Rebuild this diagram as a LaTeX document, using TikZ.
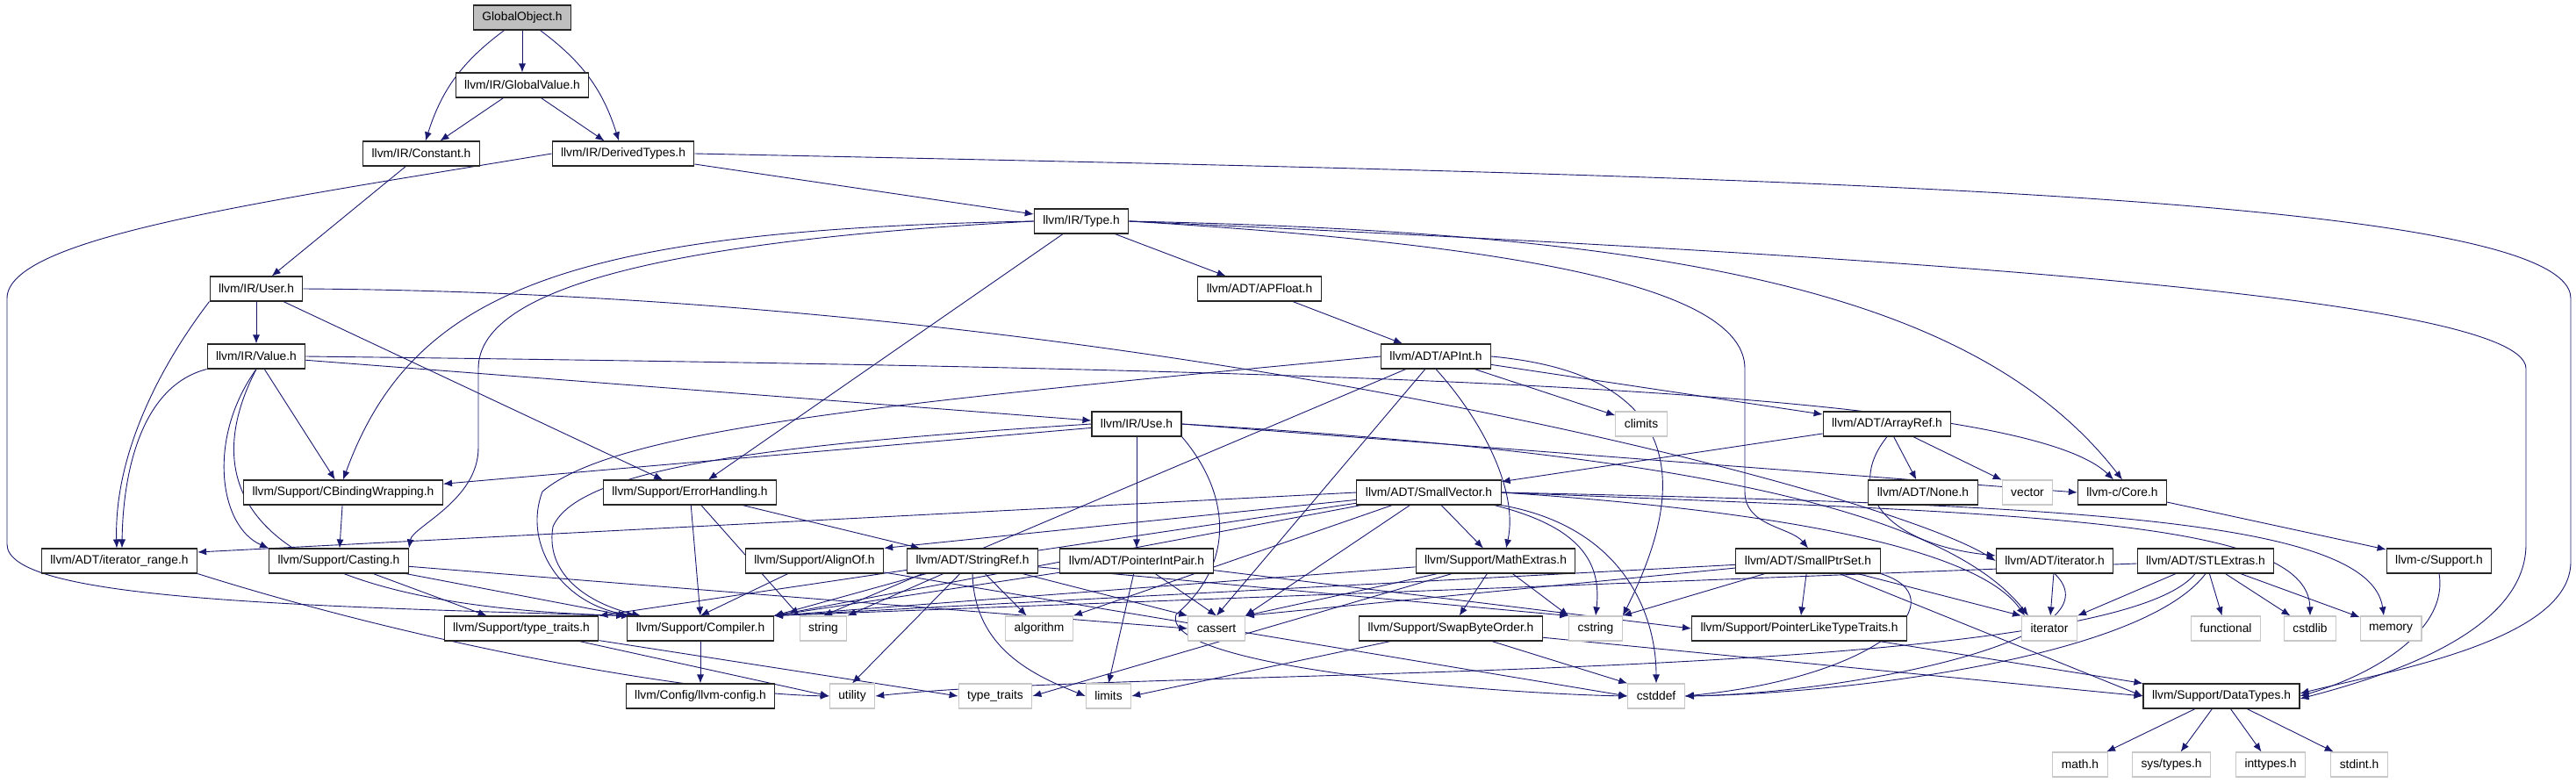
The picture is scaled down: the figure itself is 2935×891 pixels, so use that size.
\documentclass[tikz,border=0pt]{standalone}
\usepackage{fontspec}
\setmainfont{Liberation Sans}
\usetikzlibrary{arrows.meta,positioning,backgrounds}
\definecolor{edgeblue}{HTML}{191970}
\definecolor{rootgray}{HTML}{BFBFBF}
\definecolor{sysgray}{HTML}{C8C8C8}
\tikzset{
  hdr/.style={draw=black!85, fill=white, rectangle, minimum height=28pt, inner xsep=10pt,
    line width=1.1pt, font=\fontsize{13.8}{16}\selectfont},
  rootnode/.style={hdr, fill=rootgray},
  sysnode/.style={hdr, draw=sysgray},
  inc/.style={draw=edgeblue, line width=0.9pt, -{Latex[length=10pt,width=8pt]}},
}

\begin{document}
\begin{tikzpicture}[x=1pt,y=-1pt]
      \useasboundingbox (0,0) rectangle (2935,891);
      % Top of the graph
      \node[rootnode] (root) at (595,20) {GlobalObject.h};
      \node[hdr] (gval) at (595,97) {llvm/IR/GlobalValue.h};
      \node[hdr] (const) at (480,175) {llvm/IR/Constant.h};
      \node[hdr] (dtypes) at (710,175) {llvm/IR/DerivedTypes.h};
      \node[hdr] (type) at (1232,252) {llvm/IR/Type.h};
      \node[hdr] (user) at (292,329) {llvm/IR/User.h};
      \node[hdr] (apfloat) at (1435,329) {llvm/ADT/APFloat.h};
      \node[hdr] (value) at (292,406) {llvm/IR/Value.h};
      \node[hdr] (apint) at (1636,406) {llvm/ADT/APInt.h};
      \node[hdr] (use) at (1295,483) {llvm/IR/Use.h};
      \node[sysnode] (climits) at (1870,483) {climits};
      \node[hdr] (arrayref) at (2150,483) {llvm/ADT/ArrayRef.h};
      % Middle rows
      \node[hdr] (cbind) at (391,561) {llvm/Support/CBindingWrapping.h};
      \node[hdr] (errh) at (786,561) {llvm/Support/ErrorHandling.h};
      \node[hdr] (smallvec) at (1628,561) {llvm/ADT/SmallVector.h};
      \node[hdr] (none) at (2191,561) {llvm/ADT/None.h};
      \node[sysnode] (vector) at (2310,561) {vector};
      \node[hdr] (core) at (2418,561) {llvm-c/Core.h};
      \node[hdr] (itrange) at (136,639) {llvm/ADT/iterator\_range.h};
      \node[hdr] (casting) at (386,639) {llvm/Support/Casting.h};
      \node[hdr] (alignof) at (928,639) {llvm/Support/AlignOf.h};
      \node[hdr] (strref) at (1108,639) {llvm/ADT/StringRef.h};
      \node[hdr] (pip) at (1295,639) {llvm/ADT/PointerIntPair.h};
      \node[hdr] (mathx) at (1704,639) {llvm/Support/MathExtras.h};
      \node[hdr] (sps) at (2060,639) {llvm/ADT/SmallPtrSet.h};
      \node[hdr] (iterh) at (2341,639) {llvm/ADT/iterator.h};
      \node[hdr] (stlx) at (2513,639) {llvm/ADT/STLExtras.h};
      \node[hdr] (csupport) at (2779,639) {llvm-c/Support.h};
      % Lower rows
      \node[hdr] (ttraits) at (594,716) {llvm/Support/type\_traits.h};
      \node[hdr] (compiler) at (798,716) {llvm/Support/Compiler.h};
      \node[sysnode] (string) at (938,716) {string};
      \node[sysnode] (algorithm) at (1184,716) {algorithm};
      \node[sysnode] (cassert) at (1386,716) {cassert};
      \node[hdr] (swapbo) at (1653,716) {llvm/Support/SwapByteOrder.h};
      \node[sysnode] (cstring) at (1818,716) {cstring};
      \node[hdr] (pltt) at (2050,716) {llvm/Support/PointerLikeTypeTraits.h};
      \node[sysnode] (iterator) at (2335,716) {iterator};
      \node[sysnode] (functional) at (2536,716) {functional};
      \node[sysnode] (cstdlib) at (2632,716) {cstdlib};
      \node[sysnode] (memory) at (2724,716) {memory};
      \node[hdr] (config) at (798,793) {llvm/Config/llvm-config.h};
      \node[sysnode] (utility) at (971,793) {utility};
      \node[sysnode] (stdtt) at (1134,793) {type\_traits};
      \node[sysnode] (limits) at (1263,793) {limits};
      \node[sysnode] (cstddef) at (1887,793) {cstddef};
      \node[hdr] (dtypesh) at (2531,793) {llvm/Support/DataTypes.h};
      \node[sysnode] (mathh) at (2370,871) {math.h};
      \node[sysnode] (systypes) at (2474,871) {sys/types.h};
      \node[sysnode] (inttypes) at (2587,871) {inttypes.h};
      \node[sysnode] (stdint) at (2688,871) {stdint.h};

      \begin{scope}[on background layer]
      % Straight includes
      \foreach \a/\b in {root/gval, gval/const, gval/dtypes, const/user, dtypes/type,
          type/errh, type/apfloat, user/value, user/errh, value/cbind, value/use,
          apfloat/apint, apint/climits, apint/arrayref, apint/cassert.north, apint/string.north,
          use/cbind, use/pip, arrayref/smallvec, arrayref/none, arrayref/vector, cbind/casting,
          errh/strref, errh/compiler.north, errh/string.north west,
          smallvec/alignof.north east, smallvec/compiler.north east, smallvec/mathx,
          smallvec/ttraits.north east, smallvec/algorithm.north east, smallvec/cassert.north east,
          core/csupport, casting/ttraits, casting/compiler.north west, casting/cassert.west,
          alignof/compiler.north, alignof/cstddef.west,
          strref/string.north east, strref/utility.north, strref/algorithm, strref/cassert.north west,
          strref/cstring.north west, strref/compiler.north east,
          pip/cassert.north, pip/limits.north, pip/compiler.north east, pip/pltt.west,
          mathx/swapbo, mathx/cstring.north west, mathx/compiler.north east,
          mathx/stdtt.east, mathx/cassert.north east,
          sps/pltt, sps/cstring.north east, sps/dtypesh.west, sps/iterator.north west,
          sps/compiler.north east, sps/cassert.north east,
          iterh/iterator, stlx/iterator.north east, stlx/functional, stlx/cstdlib, stlx/memory,
          stlx/compiler.north east, ttraits/stdtt.west, ttraits/utility.west,
          compiler/config, swapbo/cstddef.north west, swapbo/limits.east, swapbo/dtypesh.west,
          pltt/dtypesh.north west, dtypesh/mathh, dtypesh/systypes, dtypesh/inttypes, dtypesh/stdint}
        \draw[inc] (\a) -- (\b);
      % Curved includes
      \draw[inc] (root) to[bend right=18] (const);
      \draw[inc] (root) to[bend left=18] (dtypes);
      \draw[inc] (dtypes.west) .. controls (300,230) and (8,270) .. (8,340) -- (8,620)
        .. controls (8,680) and (300,690) .. ([xshift=-2pt]compiler.north west);
      \draw[inc] (dtypes.east) .. controls (2000,200) and (2929,220) .. (2929,340) -- (2929,640)
        .. controls (2929,730) and (2720,765) .. ([yshift=3pt]dtypesh.east);
      \draw[inc] (type.east) .. controls (2000,285) and (2878,330) .. (2878,420) -- (2878,620)
        .. controls (2878,720) and (2720,770) .. ([yshift=-3pt]dtypesh.east);
      \draw[inc] (type.east) .. controls (1900,265) and (2250,330) .. (core.north);
      \draw[inc] (type.east) .. controls (1750,280) and (1988,330) .. (1988,420) -- (1988,560)
        .. controls (1988,600) and (2040,600) .. (sps.north);
      \draw[inc] (type.west) .. controls (650,262) and (470,330) .. (cbind.north);
      \draw[inc] (type.west) .. controls (750,275) and (545,330) .. (545,420) -- (545,510)
        .. controls (545,570) and (470,600) .. (casting.north east);
      \draw[inc] (user.south west) .. controls (180,420) and (130,520) .. ([xshift=-3pt]itrange.north);
      \draw[inc] (value.south west) .. controls (160,440) and (140,540) .. ([xshift=3pt]itrange.north);
      \draw[inc] (user.east) .. controls (1300,335) and (2150,560) .. (iterh.west);
      \draw[inc] (value.east) .. controls (1500,420) and (2300,440) .. ([xshift=-10pt]core.north);
      \draw[inc] (value.south) .. controls (235,500) and (250,600) .. (casting.north west);
      \draw[inc] (value.south) .. controls (230,540) and (250,690) .. ([xshift=4pt]compiler.north west);
      \draw[inc] (apint.west) .. controls (1000,460) and (700,490) .. (618,560)
        .. controls (595,620) and (640,690) .. ([xshift=10pt]compiler.north west);
      \draw[inc] (use.west) .. controls (900,505) and (660,530) .. (630,600)
        .. controls (620,660) and (680,690) .. ([xshift=16pt]compiler.north west);
      \draw[inc] (use.east) .. controls (1800,510) and (2200,560) .. ([xshift=8pt]iterator.north west);
      \draw[inc] (use.east) -- (core.west);
      \draw[inc] (apint.south) .. controls (1690,480) and (1730,560) .. ([xshift=12pt]mathx.north);
      \draw[inc] (apint.east) .. controls (1960,430) and (1900,600) .. (cstring.north east);
      \draw[inc] (use.south east) .. controls (1400,560) and (1410,640) .. (1340,700)
        .. controls (1320,760) and (1700,790) .. (cstddef.west);
      \draw[inc] (smallvec.west) -- ([yshift=10pt]itrange.east);
      \draw[inc] ([xshift=-8pt]smallvec.south east) .. controls (1800,600) and (1825,640) .. (cstring.north);
      \draw[inc] (smallvec.south east) .. controls (1850,600) and (1887,700) .. (cstddef.north);
      \draw[inc] (smallvec.east) .. controls (2000,580) and (2250,620) .. ([xshift=4pt]iterator.north west);
      \draw[inc] (smallvec.east) .. controls (2300,585) and (2630,590) .. (cstdlib.north);
      \draw[inc] (smallvec.east) .. controls (2350,575) and (2700,590) .. ([xshift=-8pt]memory.north);
      \draw[inc] (strref.south) .. controls (1110,740) and (1180,770) .. (limits.west);
      \draw[inc] (sps.south east) .. controls (2230,680) and (2150,770) .. (cstddef.east);
      \draw[inc] (iterh.south) .. controls (2420,730) and (2100,790) .. (cstddef.east);
      \draw[inc] (stlx.south) .. controls (2440,750) and (2100,790) .. (cstddef.east);
      \draw[inc] ([xshift=-12pt]stlx.south) .. controls (2400,780) and (1300,760) .. (utility.east);
      \draw[inc] (arrayref.south) .. controls (2100,560) and (2150,620) .. ([yshift=6pt]iterh.west);
      \draw[inc] (itrange.south east) .. controls (500,740) and (800,790) .. (utility.west);
      \draw[inc] (csupport.south) .. controls (2790,720) and (2700,770) .. (dtypesh.east);
      \end{scope}
    \end{tikzpicture}
\end{document}
